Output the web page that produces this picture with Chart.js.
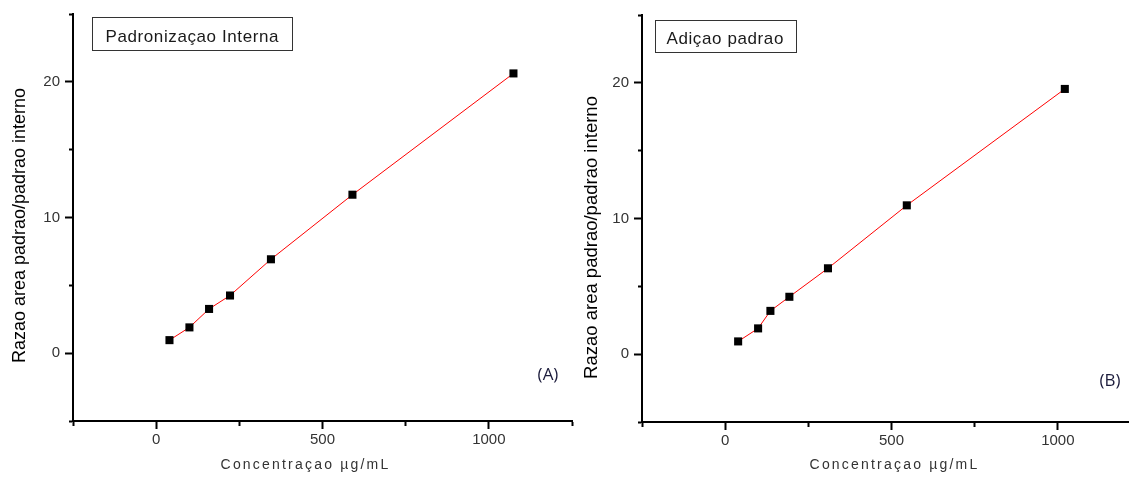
<!DOCTYPE html>
<html>
<head>
<meta charset="utf-8">
<script src="https://cdn.jsdelivr.net/npm/chart.js@4/dist/chart.umd.min.js"></script>
<style>
  html, body { margin: 0; padding: 0; background: #fff; width: 1129px; height: 477px; overflow: hidden; }
  #wrap { position: relative; width: 1129px; height: 477px; overflow: hidden; }
  #cA { position: absolute; left: 0; top: 0; }
  #cB { position: absolute; left: 570px; top: 0; }
</style>
</head>
<body>
<div id="wrap">
  <canvas id="cA" width="580" height="477"></canvas>
  <canvas id="cB" width="579" height="477"></canvas>
</div>
<script>
// ---- Data ----
const concA = [40, 100, 159, 222, 345, 590, 1074];
const ratioA = [0.96, 1.90, 3.26, 4.25, 6.92, 11.68, 20.62];

const concB = [39, 99, 136, 193, 309, 546, 1021];
const ratioB = [0.94, 1.90, 3.19, 4.23, 6.33, 10.97, 19.55];

const xTickLabels = ['0', '500', '1000'];
const yTickLabels = ['0', '10', '20'];

const titleA = 'Padronizaçao Interna';
const titleB = 'Adiçao padrao';
const tagA = '(A)';
const tagB = '(B)';
const xAxisTitle = 'Concentraçao µg/mL';
const yAxisTitle = 'Razao area padrao/padrao interno';

// ---- Scale with letter-spaced, shiftable title ----
class SpacedLinearScale extends Chart.LinearScale {
  drawTitle() {
    const ctx = this.ctx;
    const extra = SpacedLinearScale.extras[this.chart.canvas.id + ':' + this.id] || {};
    ctx.save();
    if (extra.letterSpacing) ctx.letterSpacing = extra.letterSpacing;
    ctx.translate(extra.shiftX || 0, extra.shiftY || 0);
    super.drawTitle();
    ctx.restore();
  }
}
SpacedLinearScale.id = 'spacedLinear';
SpacedLinearScale.extras = {};
Chart.register(SpacedLinearScale);

// ---- Annotation plugin (text box + panel tag) ----
const annotPlugin = {
  id: 'annot',
  afterDraw(chart, args, opts) {
    const ctx = chart.ctx;
    ctx.save();
    if (opts.box) {
      const b = opts.box;
      ctx.strokeStyle = '#333';
      ctx.lineWidth = 1;
      ctx.strokeRect(b.x, b.y, b.w, b.h);
      ctx.fillStyle = '#1a1a1a';
      ctx.font = '17px "Liberation Sans", Arial, sans-serif';
      ctx.letterSpacing = '0.6px';
      ctx.textBaseline = 'alphabetic';
      ctx.textAlign = 'left';
      ctx.fillText(b.text, b.tx, b.ty);
      ctx.letterSpacing = '0px';
    }
    if (opts.tag) {
      const t = opts.tag;
      ctx.fillStyle = '#1c1c3c';
      ctx.font = '17px "Open Sans", sans-serif';
      ctx.textAlign = 'center';
      ctx.textBaseline = 'middle';
      ctx.fillText(t.text, t.x, t.y);
    }
    ctx.restore();
  }
};

function makeChart(canvasId, xs, ys, cfg) {
  SpacedLinearScale.extras[canvasId + ':x'] = { letterSpacing: '2.2px', shiftX: cfg.titleShift };
  SpacedLinearScale.extras[canvasId + ':y'] = { shiftY: cfg.yTitleShift };
  const data = xs.map((x, i) => ({ x: x, y: ys[i] }));
  const tickFont = { family: '"Liberation Sans", Arial, sans-serif', size: 15 };
  return new Chart(document.getElementById(canvasId), {
    type: 'scatter',
    data: {
      datasets: [{
        data: data,
        showLine: true,
        borderColor: 'rgb(255,0,0)',
        borderWidth: 1,
        tension: 0,
        pointStyle: 'rect',
        pointRadius: 5.7,
        pointHoverRadius: 5.7,
        pointBackgroundColor: '#000',
        pointBorderWidth: 0,
        pointBorderColor: '#000'
      }]
    },
    plugins: [annotPlugin],
    options: {
      responsive: false,
      animation: false,
      devicePixelRatio: 1,
      layout: { padding: { left: 0, right: 8, top: cfg.top, bottom: 0 } },
      plugins: {
        legend: { display: false },
        tooltip: { enabled: false },
        annot: { box: cfg.box, tag: cfg.tag }
      },
      scales: {
        x: {
          type: 'spacedLinear',
          position: 'bottom',
          min: -250, max: 1250,
          afterFit(s) { s.height = cfg.xH; },
          ticks: {
            stepSize: 250,
            autoSkip: false,
            maxRotation: 0,
            padding: 2,
            color: '#333',
            font: tickFont,
            callback: (v) => xTickLabels.includes(String(v)) ? String(v) : ''
          },
          grid: {
            drawOnChartArea: false,
            drawTicks: true,
            tickLength: 8,
            tickWidth: 2,
            tickColor: '#000',
            tickBorderDash: (c) => (c.tick && xTickLabels.includes(String(c.tick.value))) ? [] : [4, 60]
          },
          border: { display: true, color: '#000', width: 2 },
          title: {
            display: true,
            text: xAxisTitle,
            color: '#333',
            font: { family: '"Liberation Sans", Arial, sans-serif', size: 14 },
            padding: { top: 0, bottom: 3.5 }
          }
        },
        y: {
          type: 'spacedLinear',
          position: 'left',
          min: -5, max: 25,
          afterFit(s) { s.width = cfg.yW; },
          ticks: {
            stepSize: 5,
            autoSkip: false,
            padding: 5,
            color: '#333',
            font: tickFont,
            callback: (v) => yTickLabels.includes(String(v)) ? String(v) : ''
          },
          grid: {
            drawOnChartArea: false,
            drawTicks: true,
            tickLength: 8,
            tickWidth: 2,
            tickColor: '#000',
            tickBorderDash: (c) => (c.tick && yTickLabels.includes(String(c.tick.value))) ? [] : [0, 4, 6, 60]
          },
          border: { display: true, color: '#000', width: 2 },
          title: {
            display: true,
            text: yAxisTitle,
            color: '#000',
            font: { family: '"Liberation Sans", Arial, sans-serif', size: cfg.yTitleSize },
            padding: { top: cfg.yTitlePad, bottom: 0 }
          }
        }
      }
    }
  });
}

makeChart('cA', concA, ratioA, {
  top: 14, xH: 56, yW: 73, yTitlePad: 9, titleShift: -17, yTitleShift: 8, yTitleSize: 18,
  box: { x: 92.5, y: 17.5, w: 200, h: 33, text: titleA, tx: 105.5, ty: 41.5 },
  tag: { text: tagA, x: 548, y: 375 }
});
makeChart('cB', concB, ratioB, {
  top: 15, xH: 55, yW: 72, yTitlePad: 10.5, titleShift: 3, yTitleShift: 19, yTitleSize: 18.5,
  box: { x: 85.5, y: 20.5, w: 141, h: 32, text: titleB, tx: 96.5, ty: 43.5 },
  tag: { text: tagB, x: 540, y: 381 }
});
</script>
</body>
</html>
